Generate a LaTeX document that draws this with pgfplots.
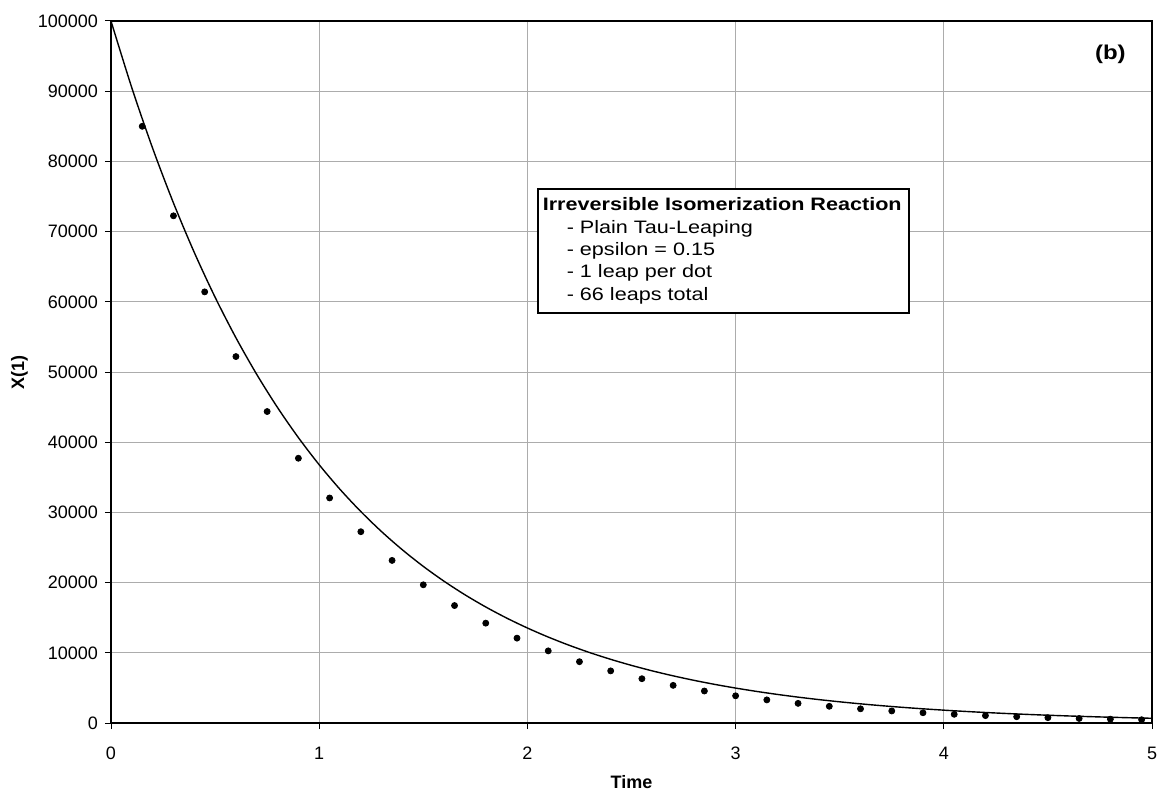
\documentclass[border=0pt]{standalone}
\usepackage{fontspec}
\setmainfont{Liberation Sans}
\newfontfamily\widefont[FakeStretch=1.2]{Liberation Sans}
\usepackage{pgfplots}
\pgfplotsset{compat=1.18}
\usetikzlibrary{calc}
\begin{document}
\begin{tikzpicture}
\begin{axis}[
    scale only axis,
    width=520.5pt, height=351pt,
    xmin=0, xmax=5, ymin=0, ymax=100000,
    xtick={0,1,2,3,4,5},
    ytick={0,10000,20000,30000,40000,50000,60000,70000,80000,90000,100000},
    scaled y ticks=false,
    /pgf/number format/fixed,
    /pgf/number format/1000 sep={},
    /pgf/number format/assume math mode=true,
    tick label style={font=\fontsize{9}{10}\selectfont},
    xticklabel style={inner sep=0pt, yshift=-9pt},
    xlabel={\bfseries Time},
    ylabel={\bfseries X(1)},
    label style={font=\bfseries\fontsize{9}{10}\selectfont},
    xlabel style={yshift=-4pt},
    ylabel style={inner sep=0pt, yshift=1.5pt},
    grid=major,
    major grid style={gray!65, line width=0.5pt},
    axis line style={line width=1.3pt},
    tick align=outside,
    major tick length=3pt,
    tick style={black, line width=0.5pt},
    xtick pos=bottom, ytick pos=left,
    clip=false,
]
% exact solution
\addplot[black, line width=0.7pt, smooth] coordinates {
(0,100000) (0.1,90484) (0.2,81873) (0.3,74082) (0.4,67032) (0.5,60653)
(0.6,54881) (0.7,49659) (0.8,44933) (0.9,40657) (1.0,36788) (1.1,33287)
(1.2,30119) (1.3,27253) (1.4,24660) (1.5,22313) (1.6,20190) (1.7,18268)
(1.8,16530) (1.9,14957) (2.0,13534) (2.1,12246) (2.2,11080) (2.3,10026)
(2.4,9072) (2.5,8208) (2.6,7427) (2.7,6721) (2.8,6081) (2.9,5502)
(3.0,4979) (3.1,4505) (3.2,4076) (3.3,3688) (3.4,3337) (3.5,3020)
(3.6,2732) (3.7,2472) (3.8,2237) (3.9,2024) (4.0,1832) (4.1,1657)
(4.2,1500) (4.3,1357) (4.4,1228) (4.5,1111) (4.6,1005) (4.7,910)
(4.8,823) (4.9,745) (5.0,674)
};
% tau-leaping dots
\addplot[only marks, mark=*, mark size=1.5pt, black] coordinates {
(0.15,85000) (0.30,72250) (0.45,61413) (0.60,52201) (0.75,44371)
(0.90,37715) (1.05,32058) (1.20,27249) (1.35,23162) (1.50,19687)
(1.65,16734) (1.80,14224) (1.95,12091) (2.10,10277) (2.25,8735)
(2.40,7425) (2.55,6311) (2.70,5365) (2.85,4560) (3.00,3876)
(3.15,3295) (3.30,2800) (3.45,2380) (3.60,2023) (3.75,1720)
(3.90,1462) (4.05,1243) (4.20,1056) (4.35,898) (4.50,763)
(4.65,649) (4.80,551) (4.95,469)
};
\node[draw=black, line width=0.8pt, fill=white, anchor=north west, align=left,
      inner xsep=2.5pt, inner ysep=2pt, text width=180.5pt, minimum height=62pt,
      font=\widefont\fontsize{9}{11.2}\selectfont]
  at (axis cs:2.046,76210)
  {\mbox{\textbf{Irreversible Isomerization Reaction}}\\
   \hspace*{12pt}- Plain Tau-Leaping\\
   \hspace*{12pt}- epsilon = 0.15\\
   \hspace*{12pt}- 1 leap per dot\\
   \hspace*{12pt}- 66 leaps total};
\node[font=\widefont\bfseries\fontsize{10}{12}\selectfont] at (axis cs:4.80,95300) {(b)};
\end{axis}
\pgfresetboundingbox
\path ($(current axis.south west)+(-55.5pt,-33pt)$) rectangle ($(current axis.north east)+(2.5pt,10.5pt)$);
\end{tikzpicture}
\end{document}
